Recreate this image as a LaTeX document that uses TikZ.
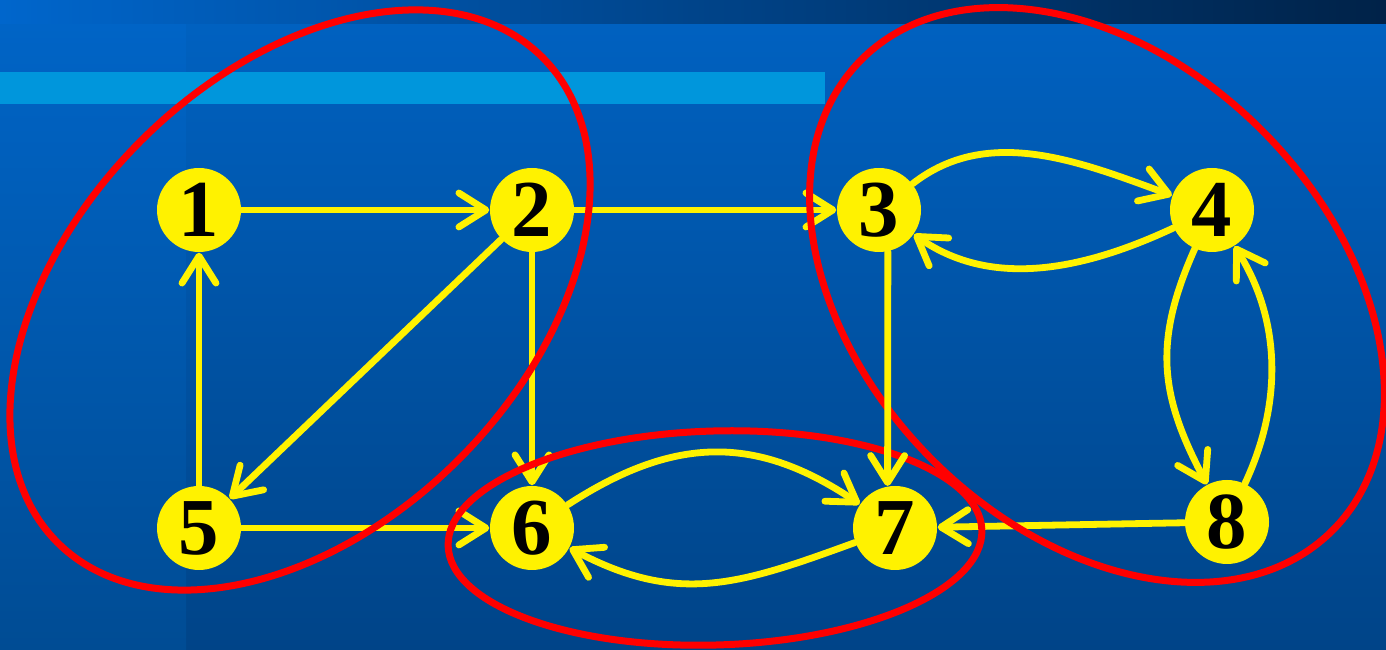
\documentclass[tikz,border=0pt]{standalone}
\usepackage{fontspec}
\setmainfont{Liberation Serif}
\usetikzlibrary{arrows.meta}
\definecolor{bandL}{HTML}{0066CC}
\definecolor{bandM}{HTML}{0056AA}
\definecolor{bandR}{HTML}{002248}
\definecolor{bgT}{HTML}{0061C0}
\definecolor{bgB}{HTML}{004488}
\definecolor{colT}{HTML}{0064C6}
\definecolor{colB}{HTML}{004C94}
\definecolor{stripe}{HTML}{0096DC}
\begin{document}
\begin{tikzpicture}[
  vert/.style={circle, fill=yellow, minimum size=0.84cm, inner sep=0pt,
    font=\fontsize{23}{23}\selectfont\bfseries},
  edge/.style={draw=yellow, line width=0.068cm, line cap=round,
    -{Straight Barb[length=0.27cm,width=0.34cm,round]}},
  group/.style={draw=red, line width=0.07cm}]
\useasboundingbox (0,0) rectangle (13.86,6.5);
% background
\shade[top color=bgT, bottom color=bgB] (0,0) rectangle (13.86,6.26);
\shade[top color=colT, bottom color=colB] (0,0) rectangle (1.86,6.26);
\shade[left color=bandL, middle color=bandM, right color=bandR] (0,6.26) rectangle (13.86,6.5);
\fill[stripe] (0,5.46) rectangle (8.25,5.78);
% nodes
\node[vert] (n1) at (1.99,4.40) {1};
\node[vert] (n2) at (5.32,4.40) {2};
\node[vert] (n3) at (8.79,4.40) {3};
\node[vert] (n4) at (12.12,4.40) {4};
\node[vert] (n5) at (1.99,1.22) {5};
\node[vert] (n6) at (5.32,1.22) {6};
\node[vert] (n7) at (8.95,1.22) {7};
\node[vert] (n8) at (12.27,1.28) {8};
% edges
\draw[edge] (n1) -- (n2);
\draw[edge] (n2) -- (n3);
\draw[edge] (n2) -- (n5);
\draw[edge] (n2) -- (n6);
\draw[edge] (n5) -- (n1);
\draw[edge] (n5) -- (n6);
\draw[edge] (n8) -- (n7);
\draw[edge] (n3) to[out=38,in=160,looseness=0.95] (n4);
\draw[edge] (n4) to[out=205,in=-35,looseness=0.95] (n3);
\draw[edge] (n4) to[out=-114,in=118,looseness=1.1] (n8);
\draw[edge] (n8) to[out=65,in=-58,looseness=0.95] (n4);
\draw[edge] (n6) to[out=33,in=146,looseness=1.1] (n7);
\draw[edge] (n7) to[out=200,in=-28,looseness=1.1] (n6);
% groups
\draw[group, rotate around={45:(3.00,3.50)}] (3.00,3.50) ellipse (3.43 and 2.25);
\draw[group, rotate around={-45:(10.97,3.55)}] (10.97,3.55) ellipse (3.33 and 2.33);
\draw[group, rotate around={1.7:(7.15,1.12)}] (7.15,1.12) ellipse (2.67 and 1.07);
\draw[edge] (n3.-78) -- (n7.100);
\end{tikzpicture}
\end{document}
